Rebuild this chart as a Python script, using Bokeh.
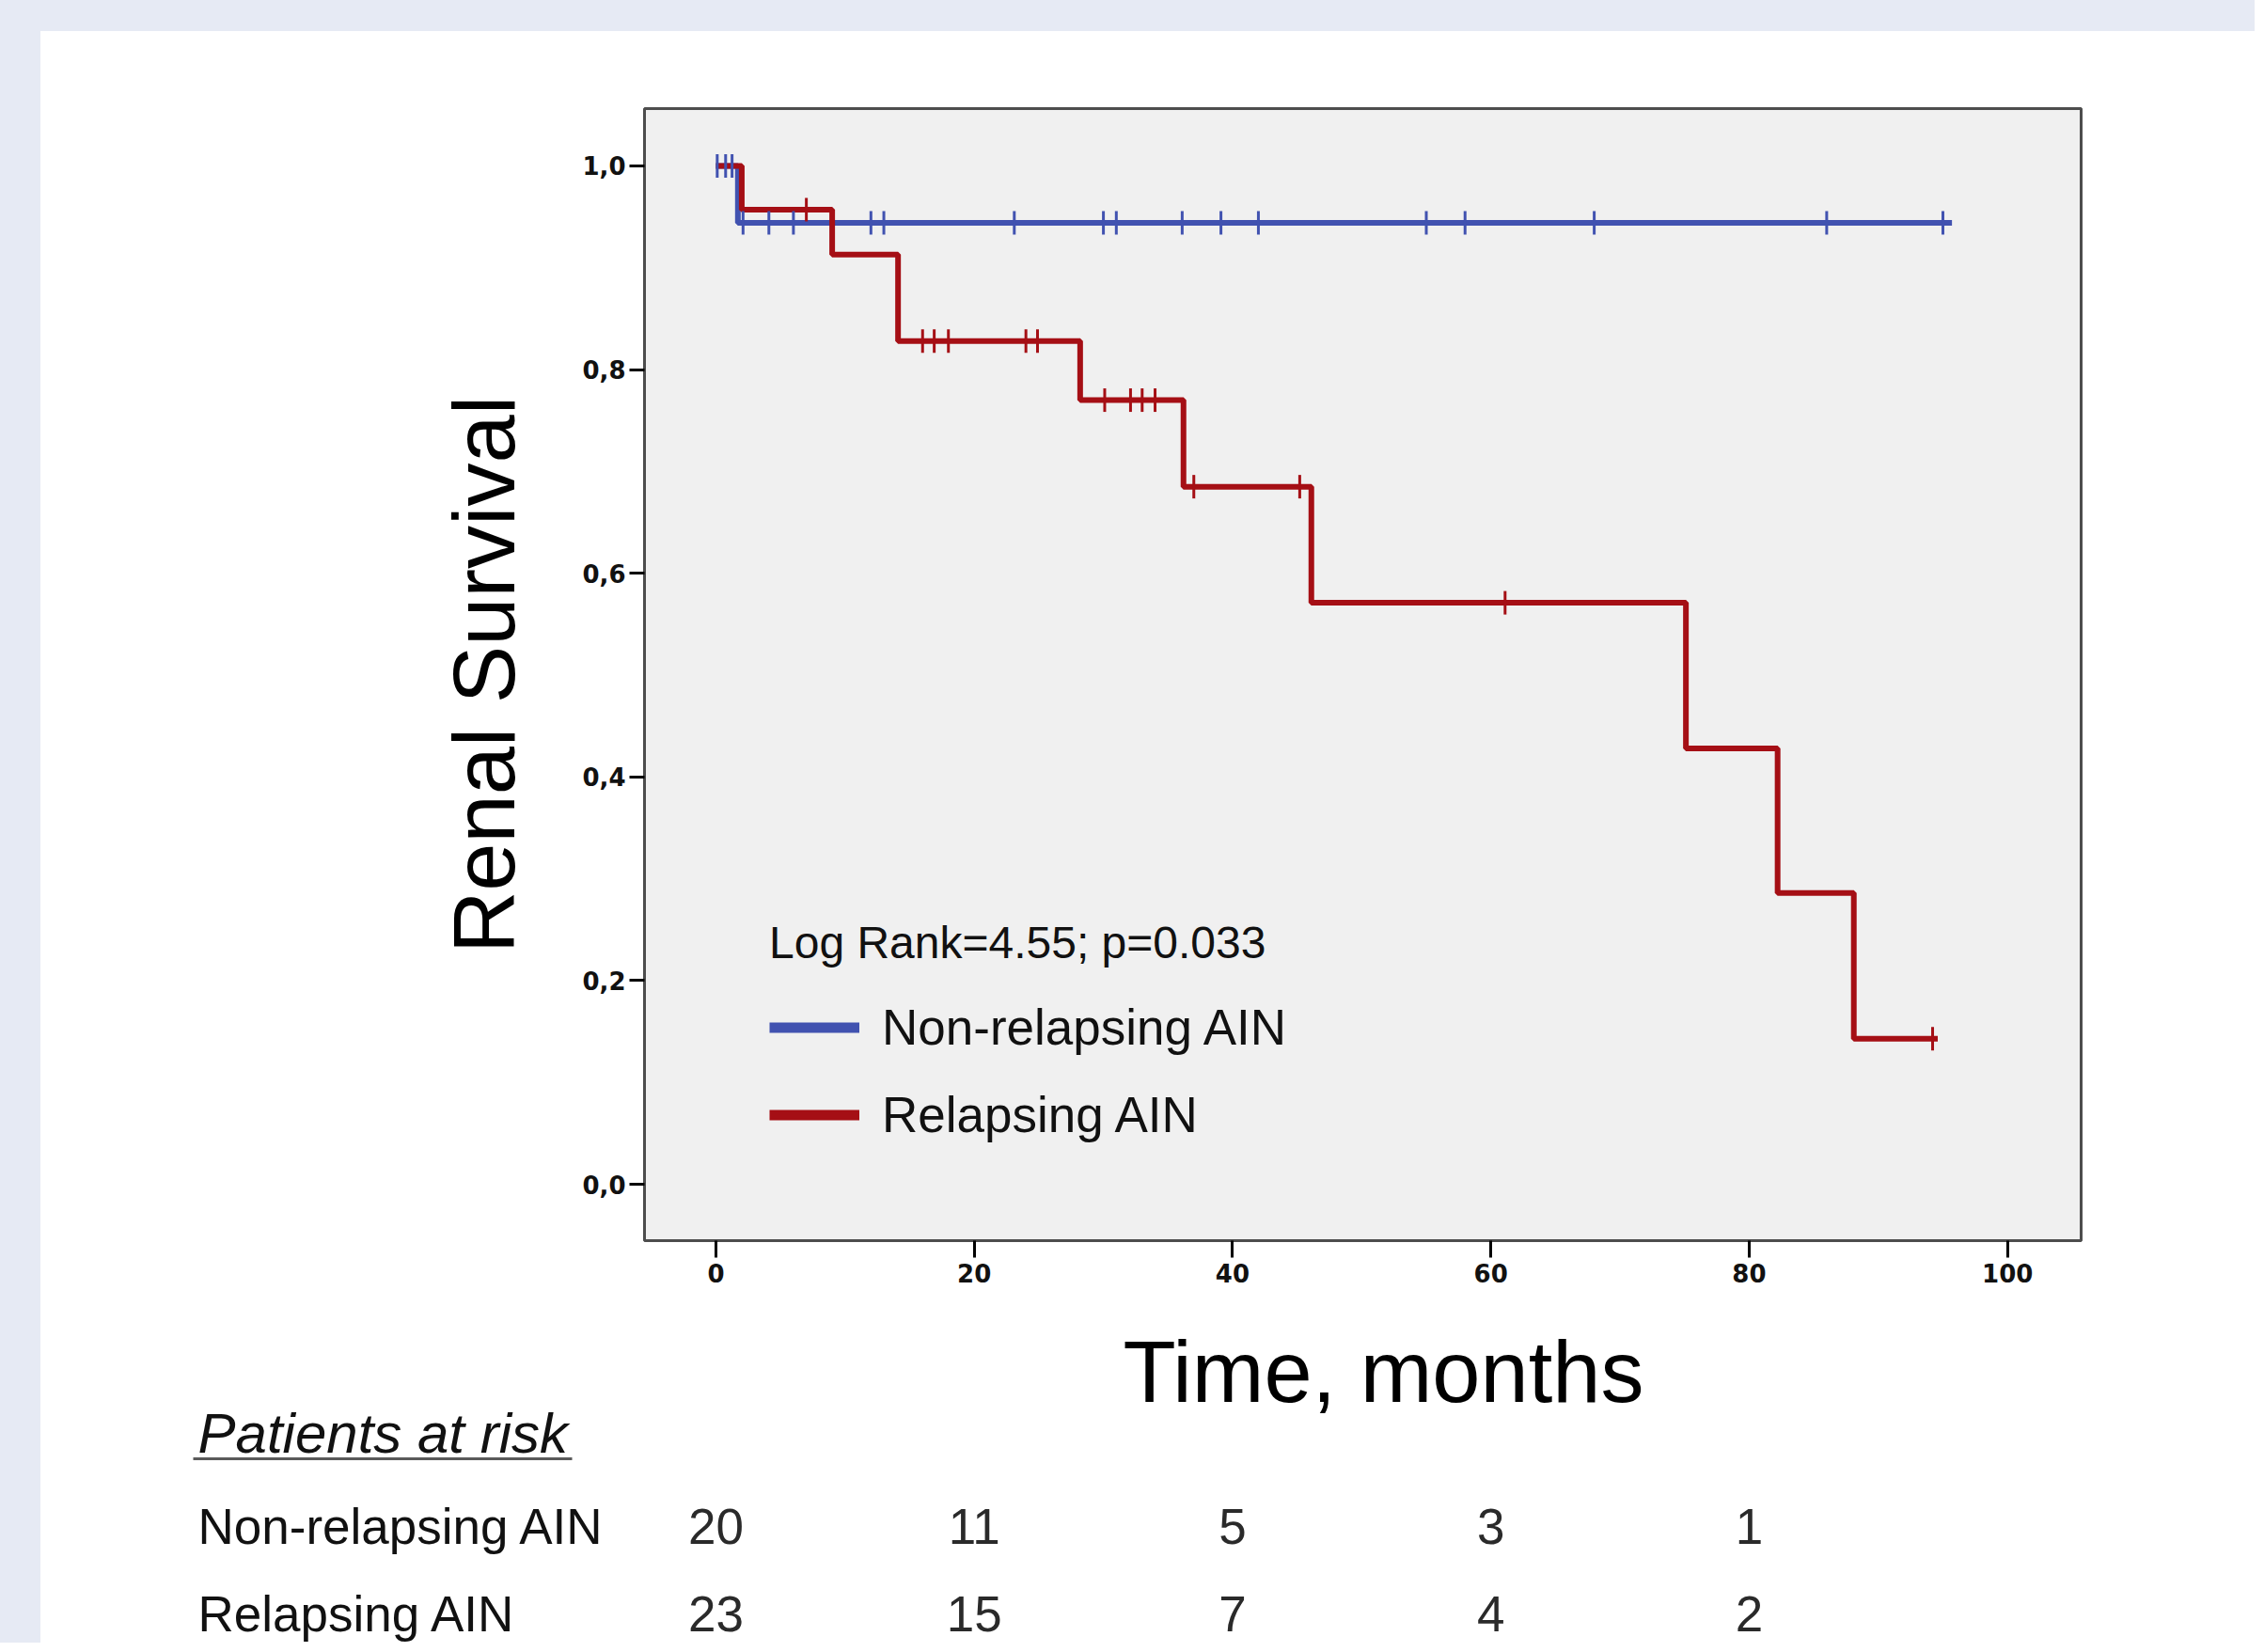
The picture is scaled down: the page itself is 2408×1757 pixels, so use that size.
import math
from bokeh.plotting import figure
from bokeh.models import (Range1d, FixedTicker, CustomJSTickFormatter, Label,
                          Legend, LegendItem, Spacer)
from bokeh.layouts import column, row
from bokeh.embed import file_html
from bokeh.resources import INLINE

# ---------------- data ----------------
x_ticks = [0, 20, 40, 60, 80, 100]
y_ticks = [0.0, 0.2, 0.4, 0.6, 0.8, 1.0]

# Non-relapsing AIN: step curve and censored times
nonrel_t = [0.0, 1.7, 95.7]
nonrel_s = [1.0, 0.944, 0.944]
nonrel_cens_t = [0.1, 0.75, 1.25, 2.1, 4.1, 6.0, 12.0, 13.0, 23.1, 30.0, 31.0,
                 36.1, 39.1, 42.0, 55.0, 58.0, 68.0, 86.0, 95.0]
nonrel_cens_s = [1.0, 1.0, 1.0] + [0.944] * 16

# Relapsing AIN: step curve and censored times
rel_t = [0.0, 2.0, 9.0, 14.1, 28.2, 36.2, 46.1, 75.1, 82.2, 88.1, 94.6]
rel_s = [1.0, 0.957, 0.913, 0.828, 0.770, 0.685, 0.571, 0.428, 0.286, 0.143, 0.143]
rel_cens_t = [7.0, 16.0, 16.9, 18.0, 24.0, 24.9, 30.1, 32.1, 33.0, 34.0,
              37.0, 45.2, 61.1, 94.2]
rel_cens_s = [0.957, 0.828, 0.828, 0.828, 0.828, 0.828, 0.770, 0.770, 0.770,
              0.770, 0.685, 0.685, 0.571, 0.143]

groups = ["Non-relapsing AIN", "Relapsing AIN"]
risk_times = [0, 20, 40, 60, 80]
risk_nonrel = [20, 11, 5, 3, 1]
risk_rel = [23, 15, 7, 4, 2]

legend_title = "Log Rank=4.55; p=0.033"
x_title = "Time, months"
y_title = "Renal Survival"
risk_title = "Patients at risk"

# ---------------- styling / geometry ----------------
BLUE = "#4152b0"
RED = "#a50f15"
PAGE_BLUE = "#e6eaf4"
FONT = "Liberation Sans"
TICK_FONT = "DejaVu Sans"

PAD_L, PAD_T = 43, 33          # light-blue page band
W = 2355                        # width of both figures
H1 = 1352                       # main chart
H2 = 362                        # titles + risk table

X0_PX, PX_PER_X = 761.0, 13.737   # page px of t=0, px per month

def dx(px):
    return (px - X0_PX) / PX_PER_X

def mid(baseline, size):
    # vertical centre of the text box whose alphabetic baseline is `baseline`
    return baseline - 0.3465 * size

p = figure(width=W, height=H1, output_backend="svg", toolbar_location=None,
           x_range=Range1d(-5.53, 105.7), y_range=Range1d(-0.0554, 1.0563),
           min_border_left=685 - PAD_L, min_border_right=PAD_L + W - 2213,
           min_border_top=115 - PAD_T, min_border_bottom=PAD_T + H1 - 1319)
p.background_fill_color = "#f0f0f0"
p.border_fill_color = "white"
p.outline_line_color = "#4d4d4d"
p.outline_line_width = 3
p.xgrid.grid_line_color = None
p.ygrid.grid_line_color = None

for ax in (p.xaxis, p.yaxis):
    ax.axis_line_color = None
    ax.major_tick_in = 0
    ax.major_tick_line_width = 3
    ax.major_tick_line_color = "black"
    ax.minor_tick_line_color = None
    ax.major_label_text_font = TICK_FONT
    ax.major_label_text_font_style = "bold"
    ax.major_label_text_font_size = "26px"
    ax.major_label_text_color = "#111111"
p.xaxis.ticker = FixedTicker(ticks=x_ticks)
p.yaxis.ticker = FixedTicker(ticks=y_ticks)
p.yaxis.formatter = CustomJSTickFormatter(code="return tick.toFixed(1).replace('.', ',');")
p.xaxis.major_tick_out = 18
p.yaxis.major_tick_out = 16
p.xaxis.major_label_standoff = 6
p.yaxis.major_label_standoff = 4

p.yaxis.axis_label = y_title
p.yaxis.axis_label_text_font = FONT
p.yaxis.axis_label_text_font_size = "92px"
p.yaxis.axis_label_text_font_style = "normal"
p.yaxis.axis_label_text_color = "black"
p.yaxis.axis_label_standoff = 50

# curves
p.step(x=nonrel_t, y=nonrel_s, mode="after", line_width=6, line_color=BLUE)
p.step(x=rel_t, y=rel_s, mode="after", line_width=6, line_color=RED)
p.scatter(x=nonrel_cens_t, y=nonrel_cens_s, marker="dash", angle=math.pi / 2,
          size=25, line_width=3, line_color=BLUE)
p.scatter(x=rel_cens_t, y=rel_cens_s, marker="dash", angle=math.pi / 2,
          size=25, line_width=3, line_color=RED)

# legend proxies (hidden renderers with thick lines)
lb = p.line(x=nonrel_t, y=nonrel_s, line_width=11, line_color=BLUE, visible=False)
lr = p.line(x=rel_t, y=rel_s, line_width=11, line_color=RED, visible=False)
legend = Legend(items=[LegendItem(label=groups[0], renderers=[lb]),
                       LegendItem(label=groups[1], renderers=[lr])],
                location=(133, 87), title=legend_title)
legend.title_text_font = FONT
legend.title_text_font_size = "48px"
legend.title_text_font_style = "normal"
legend.title_text_color = "#111111"
legend.title_standoff = 16
legend.label_text_font = FONT
legend.label_text_font_size = "53px"
legend.label_text_color = "#111111"
legend.label_height = 93
legend.glyph_height = 93
legend.glyph_width = 96
legend.label_standoff = 24
legend.spacing = 0
legend.padding = 0
legend.margin = 0
legend.border_line_color = None
legend.background_fill_alpha = 0
legend.inactive_fill_alpha = 0
legend.click_policy = "none"
p.add_layout(legend, "center")

# ---------------- lower panel: x title and risk table ----------------
top_y = PAD_T + H1                 # page y of the panel's top
p2 = figure(width=W, height=H2, output_backend="svg", toolbar_location=None,
            x_range=Range1d(dx(PAD_L), dx(PAD_L + W)),
            y_range=Range1d(top_y + H2, top_y),     # page pixels, downward
            x_axis_location=None, y_axis_location=None,
            min_border_left=0, min_border_right=0, min_border_top=0,
            min_border_bottom=0)
p2.background_fill_color = "white"
p2.border_fill_color = "white"
p2.outline_line_color = None
p2.xgrid.grid_line_color = None
p2.ygrid.grid_line_color = None

p2.add_layout(Label(x=dx(1471), y=mid(1490, 92), text=x_title,
                    text_align="center", text_baseline="middle",
                    text_font=FONT, text_font_size="92px", text_color="black"))
p2.add_layout(Label(x=dx(210), y=mid(1545, 60), text=risk_title, text_align="left",
                    text_baseline="middle", text_font=FONT,
                    text_font_style="italic", text_font_size="60px",
                    text_color="#111111"))
p2.segment(x0=[dx(205)], y0=[1551], x1=[dx(608)], y1=[1551],
           line_color="#5a5a5a", line_width=3)
row_baselines = [1641, 1734]
for g, counts, yb in zip(groups, [risk_nonrel, risk_rel], row_baselines):
    p2.add_layout(Label(x=dx(210), y=mid(yb, 53), text=g, text_align="left",
                        text_baseline="middle", text_font=FONT,
                        text_font_size="53px", text_color="#111111"))
    for t, c in zip(risk_times, counts):
        p2.add_layout(Label(x=t, y=mid(yb, 53), text=str(c), text_align="center",
                            text_baseline="middle", text_font=FONT,
                            text_font_size="53px", text_color="#2a2a2a"))

top = Spacer(width=W + PAD_L, height=PAD_T, styles={"background-color": PAGE_BLUE})
left1 = Spacer(width=PAD_L, height=H1, styles={"background-color": PAGE_BLUE})
left2 = Spacer(width=PAD_L, height=H2, styles={"background-color": PAGE_BLUE})
layout = column(top, row(left1, p), row(left2, p2))

open("out.html", "w").write(file_html(layout, INLINE, title="Renal survival"))
